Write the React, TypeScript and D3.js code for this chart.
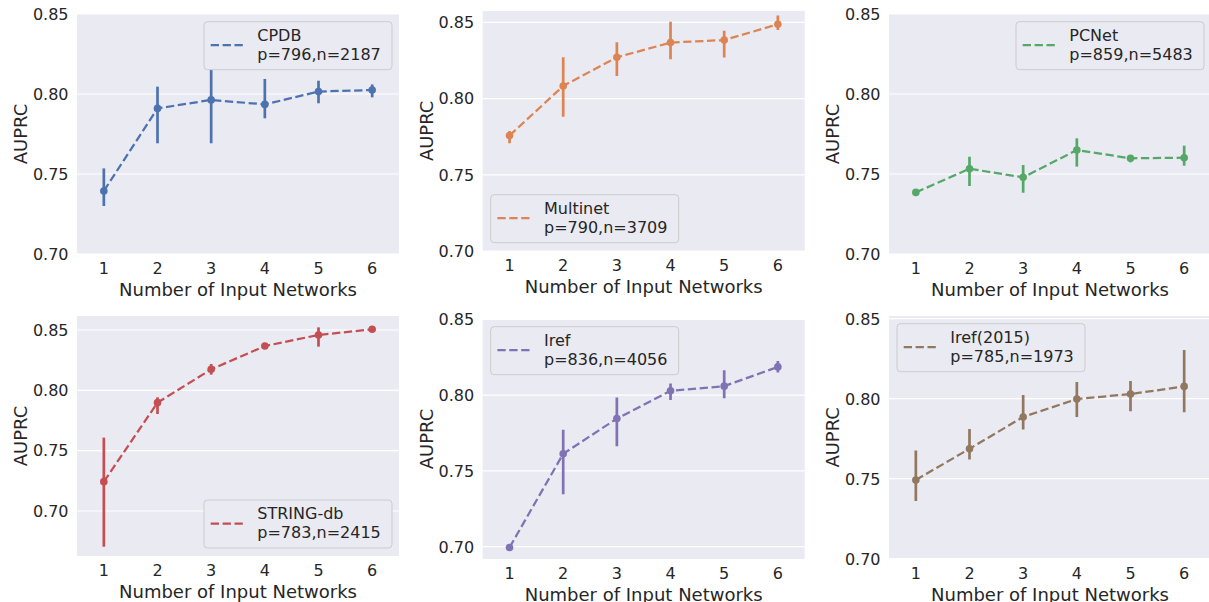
import React from "react";
import * as d3 from "d3";

const networks = [1, 2, 3, 4, 5, 6];
const yTicks = [0.7, 0.75, 0.8, 0.85];

const cpdbMean = [0.7394, 0.791, 0.7963, 0.7935, 0.8015, 0.8025];
const cpdbLow = [0.73, 0.7692, 0.7692, 0.7848, 0.7942, 0.7979];
const cpdbHigh = [0.7535, 0.8046, 0.8158, 0.8094, 0.8083, 0.806];

const multinetMean = [0.7758, 0.8083, 0.8271, 0.8367, 0.8384, 0.8487];
const multinetLow = [0.7707, 0.7882, 0.8148, 0.8258, 0.8269, 0.845];
const multinetHigh = [0.7788, 0.8271, 0.8369, 0.8504, 0.8445, 0.8544];

const pcnetMean = [0.7385, 0.7533, 0.7479, 0.765, 0.7598, 0.7602];
const pcnetLow = [0.7375, 0.7425, 0.7383, 0.7546, 0.7573, 0.7552];
const pcnetHigh = [0.7395, 0.7608, 0.7556, 0.7723, 0.7619, 0.7677];

const stringMean = [0.7243, 0.7898, 0.8174, 0.8367, 0.8459, 0.8506];
const stringLow = [0.6704, 0.7804, 0.813, 0.8357, 0.8362, 0.8496];
const stringHigh = [0.7608, 0.7942, 0.8218, 0.8377, 0.8522, 0.8516];

const irefMean = [0.6995, 0.7613, 0.7845, 0.8028, 0.8059, 0.8186];
const irefLow = [0.6985, 0.7346, 0.7663, 0.7967, 0.798, 0.8149];
const irefHigh = [0.7005, 0.7772, 0.7985, 0.8077, 0.8164, 0.8225];

const iref15Mean = [0.7492, 0.7687, 0.7886, 0.7998, 0.8029, 0.8077];
const iref15Low = [0.7361, 0.762, 0.7807, 0.7886, 0.7921, 0.7915];
const iref15High = [0.7676, 0.7811, 0.8023, 0.8104, 0.811, 0.8305];

const PANEL_W = 322;
const LEG_W = 188;
const LEG_H = 48;
const TEXT = "#262626";
const FONT = "DejaVu Sans, sans-serif";

const panels = [
  { name: "CPDB", stats: "p=796,n=2187", color: "#4C72B0", mean: cpdbMean, low: cpdbLow, high: cpdbHigh,
    ylim: [0.7, 0.85], left: 77, top: 14, bottom: 254, legend: "upper right" },
  { name: "Multinet", stats: "p=790,n=3709", color: "#DD8452", mean: multinetMean, low: multinetLow, high: multinetHigh,
    ylim: [0.7004, 0.8574], left: 482.7, top: 11, bottom: 250.7, legend: "lower left" },
  { name: "PCNet", stats: "p=859,n=5483", color: "#55A868", mean: pcnetMean, low: pcnetLow, high: pcnetHigh,
    ylim: [0.7, 0.85], left: 889, top: 14, bottom: 254, legend: "upper right" },
  { name: "STRING-db", stats: "p=783,n=2415", color: "#C44E52", mean: stringMean, low: stringLow, high: stringHigh,
    ylim: [0.6627, 0.8616], left: 77, top: 316, bottom: 556, legend: "lower right" },
  { name: "Iref", stats: "p=836,n=4056", color: "#8172B3", mean: irefMean, low: irefLow, high: irefHigh,
    ylim: [0.6919, 0.8502], left: 482.7, top: 319, bottom: 559, legend: "upper left" },
  { name: "Iref(2015)", stats: "p=785,n=1973", color: "#937860", mean: iref15Mean, low: iref15Low, high: iref15High,
    ylim: [0.7, 0.8517], left: 889, top: 316, bottom: 558.7, legend: "upper left" },
];

function Panel({ p, idx }) {
  const right = p.left + PANEL_W;
  const x = d3.scaleLinear().domain([0.5, 6.5]).range([p.left, right]);
  const y = d3.scaleLinear().domain(p.ylim).range([p.bottom, p.top]);
  const pts = networks.map((n, i) => ({ n, m: p.mean[i], lo: p.low[i], hi: p.high[i] }));
  const line = d3
    .line()
    .x((d) => x(d.n))
    .y((d) => y(d.m));

  const ticks = yTicks.filter((t) => t >= p.ylim[0] - 0.001 && t <= p.ylim[1] + 0.001);

  let lx = p.left + 8;
  let ly = p.top + 7.7;
  if (p.legend.includes("right")) lx = right - 7 - LEG_W;
  if (p.legend.includes("lower")) ly = p.bottom - 8 - LEG_H;

  const clipId = `clip-${idx}`;
  const midY = (p.top + p.bottom) / 2;

  return (
    <g>
      <defs>
        <clipPath id={clipId}>
          <rect x={p.left} y={p.top} width={PANEL_W} height={p.bottom - p.top} />
        </clipPath>
      </defs>
      <rect x={p.left} y={p.top} width={PANEL_W} height={p.bottom - p.top} fill="#EAEAF2" />
      {ticks.map((t) => (
        <line key={t} x1={p.left} x2={right} y1={y(t)} y2={y(t)} stroke="#ffffff" strokeWidth={1.2} />
      ))}
      <g clipPath={`url(#${clipId})`}>
        <path
          d={line(pts)}
          fill="none"
          stroke={p.color}
          strokeWidth={2.25}
          strokeDasharray="8.3 3.6"
        />
        {pts.map((d) => (
          <line key={"e" + d.n} x1={x(d.n)} x2={x(d.n)} y1={y(d.lo)} y2={y(d.hi)} stroke={p.color} strokeWidth={2.7} />
        ))}
        {pts.map((d) => (
          <circle key={"c" + d.n} cx={x(d.n)} cy={y(d.m)} r={3.8} fill={p.color} />
        ))}
      </g>

      {ticks.map((t) => (
        <text key={"yt" + t} x={p.left - 8.5} y={y(t) + 5.8} textAnchor="end" fontSize={16} fill={TEXT}>
          {t.toFixed(2)}
        </text>
      ))}
      {networks.map((n) => (
        <text key={"xt" + n} x={x(n)} y={p.bottom + 20} textAnchor="middle" fontSize={16} fill={TEXT}>
          {n}
        </text>
      ))}
      <text x={(p.left + right) / 2} y={p.bottom + 42} textAnchor="middle" fontSize={18} fill={TEXT}>
        Number of Input Networks
      </text>
      <text
        transform={`translate(${p.left - 50},${midY}) rotate(-90)`}
        textAnchor="middle"
        fontSize={18}
        fill={TEXT}
      >
        AUPRC
      </text>

      <rect x={lx} y={ly} width={LEG_W} height={LEG_H} rx={3.5} fill="#EAEAF2" stroke="#CCCCCC" strokeWidth={1} />
      <line
        x1={lx + 6.7}
        x2={lx + 39.3}
        y1={ly + 23.5}
        y2={ly + 23.5}
        stroke={p.color}
        strokeWidth={2.25}
        strokeDasharray="8.3 3.6"
      />
      <text x={lx + 53.3} y={ly + 19} fontSize={16} fill={TEXT}>
        {p.name}
      </text>
      <text x={lx + 53.3} y={ly + 38} fontSize={16} fill={TEXT}>
        {p.stats}
      </text>
    </g>
  );
}

export default function App() {
  return (
    <svg
      width={1209}
      height={602}
      viewBox="0 0 1209 602"
      style={{ position: "absolute", left: 0, top: 0, background: "#ffffff", fontFamily: FONT }}
    >
      {panels.map((p, i) => (
        <Panel key={p.name} p={p} idx={i} />
      ))}
    </svg>
  );
}
